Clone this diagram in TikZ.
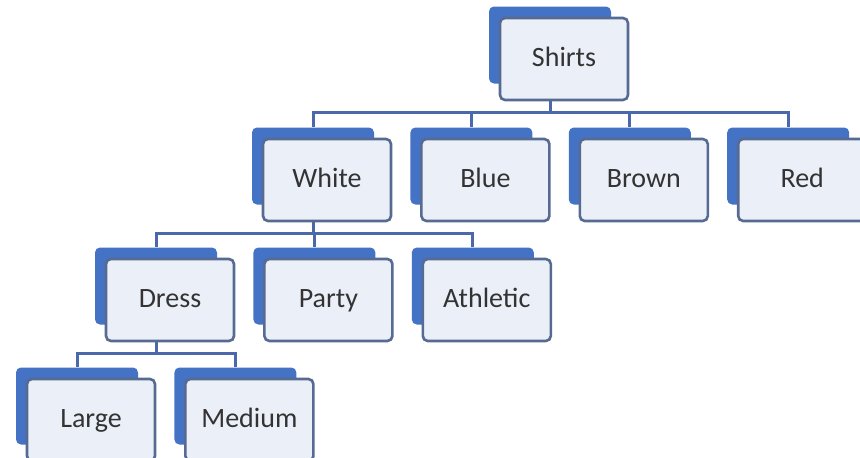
\documentclass[tikz,border=0pt]{standalone}
\usepackage{fontspec}
\setmainfont{Carlito}
\usepackage{tikz}
\usetikzlibrary{positioning}
\definecolor{cardblue}{HTML}{4472C4}
\definecolor{facefill}{HTML}{EBEFF8}
\definecolor{faceline}{HTML}{566A92}
\definecolor{linkblue}{HTML}{4A68AA}

\begin{document}
\begin{tikzpicture}[x=1pt, y=1pt, node distance=43pt and 36pt,
        card/.style={rectangle, rounded corners=5pt, fill=cardblue, minimum width=122pt, minimum height=77pt, inner sep=0pt},
        face/.style={rectangle, rounded corners=5pt, draw=faceline, line width=2.6pt, fill=facefill, minimum width=128pt, minimum height=82pt, inner sep=0pt, xshift=14pt, yshift=-14pt, text height=20pt, text depth=6pt, text=black!80, font=\fontsize{28}{32}\selectfont},
        link/.style={draw=linkblue, line width=3pt}]
        \clip (0,0) rectangle (860,-458);
        \fill[white] (0,0) rectangle (860,-458);

        % Blue cards behind every entry
        \node[card] (shirts) at (550,-45) {};
        \node[card] (white) at (313,-166) {};
        \node[card, right=of white] (blue) {};
        \node[card, right=of blue] (brown) {};
        \node[card, right=of brown] (red) {};
        \node[card] (dress) at (156,-286) {};
        \node[card, right=of dress] (party) {};
        \node[card, right=of party] (athletic) {};
        \node[card] (large) at (77,-406) {};
        \node[card, right=of large] (medium) {};

        % Elbow links from parent to children
        \foreach \kid in {white, blue, brown, red}
            \draw[link] (shirts.center) -- ++(0,-67) -| (\kid.north);
        \foreach \kid in {dress, party, athletic}
            \draw[link] (white.center) -- ++(0,-67) -| (\kid.north);
        \foreach \kid in {large, medium}
            \draw[link] (dress.center) -- ++(0,-67) -| (\kid.north);

        % Light front boxes with the texts
        \node[face] (shirts-t) at (shirts) {Shirts};
        \node[face] (white-t) at (white) {White};
        \node[face] (blue-t) at (blue) {Blue};
        \node[face] (brown-t) at (brown) {Brown};
        \node[face] (red-t) at (red) {Red};
        \node[face] (dress-t) at (dress) {Dress};
        \node[face] (party-t) at (party) {Party};
        \node[face] (athletic-t) at (athletic) {Athletic};
        \node[face] (large-t) at (large) {Large};
        \node[face] (medium-t) at (medium) {Medium};
    \end{tikzpicture}
\end{document}
